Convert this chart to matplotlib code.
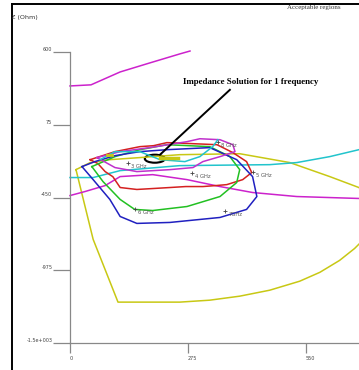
import matplotlib.pyplot as plt
from matplotlib.patches import Ellipse
from matplotlib.lines import Line2D
from matplotlib.transforms import Bbox

# impedance curves (Re Z, Im Z in Ohm)
mag_top_x = [0, 49, 117, 186, 256, 280]
mag_top_y = [355, 363, 456, 521, 586, 607]

yellow_x = [14, 54, 112, 256, 326, 396, 466, 536, 583, 629, 664, 690, 704, 674, 606, 513, 396, 256, 163, 93, 47, 14]
yellow_y = [-249, -752, -1205, -1205, -1191, -1162, -1119, -1054, -990, -904, -818, -738, -464, -378, -299, -198, -134, -141, -162, -177, -198, -249]

blue_x = [28, 54, 93, 117, 156, 233, 350, 412, 436, 426, 389, 326, 226, 163, 105, 58, 28]
blue_y = [-227, -321, -464, -587, -637, -630, -594, -536, -443, -299, -177, -90, -105, -119, -148, -191, -227]

green_x = [51, 77, 117, 151, 193, 273, 350, 389, 396, 373, 326, 226, 163, 105, 51]
green_y = [-227, -335, -464, -536, -544, -515, -443, -342, -249, -155, -83, -69, -105, -155, -227]

red_x = [47, 65, 82, 100, 117, 156, 195, 233, 270, 310, 340, 366, 403, 424, 412, 380, 343, 290, 226, 195, 163, 105, 47]
red_y = [-177, -205, -263, -300, -378, -392, -385, -378, -371, -371, -364, -357, -321, -270, -191, -126, -69, -62, -54, -76, -83, -119, -177]

mag_loop_x = [63, 117, 186, 273, 303, 350, 380, 385, 350, 310, 287, 233, 156, 105, 63]
mag_loop_y = [-162, -119, -90, -47, -26, -33, -69, -119, -155, -191, -234, -249, -263, -234, -162]

mag_low_x = [0, 35, 82, 117, 193, 273, 350, 426, 529, 674]
mag_low_y = [-436, -407, -364, -299, -285, -321, -371, -414, -443, -457]

cyan_x = [0, 54, 117, 256, 466, 529, 606, 674]
cyan_y = [-306, -306, -256, -220, -213, -198, -155, -105]

cyan_in_x = [70, 105, 163, 210, 268, 303, 333, 345]
cyan_in_y = [-177, -119, -119, -177, -191, -155, -83, -33]

sol_x = [210, 252]
sol_y = [-162, -162]
dash_x = [86, 98]
dash_y = [-141, -141]

freq_labels = ['3 GHz', '4 GHz', '5 GHz', '6 GHz', '7GHz', '8 GHz']
freq_x = [135, 284, 426, 151, 361, 345]
freq_y = [-198, -270, -263, -536, -551, -47]

fig = plt.figure(figsize=(3.59, 3.70), dpi=100)
ax = fig.add_axes([70/359, 27/370, 300/359, 291/370])
ax.set_xlim(0, 700)
ax.set_ylim(-1500, 600)

lw = 1.1
ax.plot(mag_top_x, mag_top_y, color='#cc22cc', lw=lw, clip_on=False)
ax.plot(yellow_x, yellow_y, color='#c8c814', lw=lw, clip_on=False)
ax.plot(cyan_x, cyan_y, color='#22c4cc', lw=lw, clip_on=False)
ax.plot(mag_low_x, mag_low_y, color='#cc22cc', lw=lw, clip_on=False)
ax.plot(red_x, red_y, color='#d42020', lw=lw, clip_on=False)
ax.plot(green_x, green_y, color='#22c022', lw=lw, clip_on=False)
ax.plot(blue_x, blue_y, color='#2020c0', lw=lw, clip_on=False)
ax.plot(mag_loop_x, mag_loop_y, color='#c030cc', lw=lw, clip_on=False)
ax.plot(cyan_in_x, cyan_in_y, color='#22c4cc', lw=lw, clip_on=False)
ax.plot(sol_x, sol_y, color='#c8c814', lw=2.5, clip_on=False)
ax.plot(dash_x, dash_y, color='#c8c814', lw=2.0, clip_on=False)

for lab, fx, fy in zip(freq_labels, freq_x, freq_y):
    ax.plot(fx, fy, marker='+', ms=3, mew=0.6, color='#444444')
    ax.text(fx + 8, fy - 25, lab, fontsize=3.8, color='#555555', va='center', ha='left')

# solution marker and pointer
ax.add_patch(Ellipse((198, -170), 47, 58, fill=False, ec='black', lw=1.5))
ax.plot([373, 210], [327, -141], color='black', lw=1.4, clip_on=False)

for s in ['top', 'right']:
    ax.spines[s].set_visible(False)
for s in ['left', 'bottom']:
    ax.spines[s].set_color('#888888')
    ax.spines[s].set_linewidth(0.9)

ax.set_yticks([-1500, -975, -450, 75, 600])
ax.set_yticklabels(['-1.5e+003', '-975', '-450', '75', '600'])
ax.set_xticks([0, 275, 550])
ax.set_xticklabels(['0', '275', '550'])
ax.tick_params(axis='y', direction='out', length=12.2, width=0.9, color='#888888',
               labelsize=3.5, labelcolor='#444444', pad=0.5)
ax.tick_params(axis='x', direction='out', length=7, width=0.9, color='#888888',
               labelsize=3.5, labelcolor='#444444', pad=2.5)
for t in ax.get_yticklabels():
    t.set_va('bottom')
for t in ax.get_xticklabels():
    t.set_ha('left')

# outer frame and texts
fig.add_artist(Line2D([12/359, 12/359], [0, 1 - 4/370], color='black', lw=1.4))
fig.add_artist(Line2D([12/359, 1], [1 - 4/370, 1 - 4/370], color='black', lw=1.4))
ylab = fig.text(38/359, 1 - 17/370, 'Im Z (Ohm)', fontsize=4.6, color='#333333', ha='right', va='center')
ylab.set_clip_box(Bbox.from_extents(12, 0, 359, 370))
ylab.set_clip_on(True)
fig.text(287/359, 1 - 8/370, 'Acceptable regions', fontsize=5, color='#333333',
         family='Liberation Serif', ha='left', va='center')
fig.text(183/359, 1 - 82/370, 'Impedance Solution for 1 frequency', fontsize=6.4,
         family='Liberation Serif', weight='bold', ha='left', va='center')

fig.savefig('out.png', dpi=100)
